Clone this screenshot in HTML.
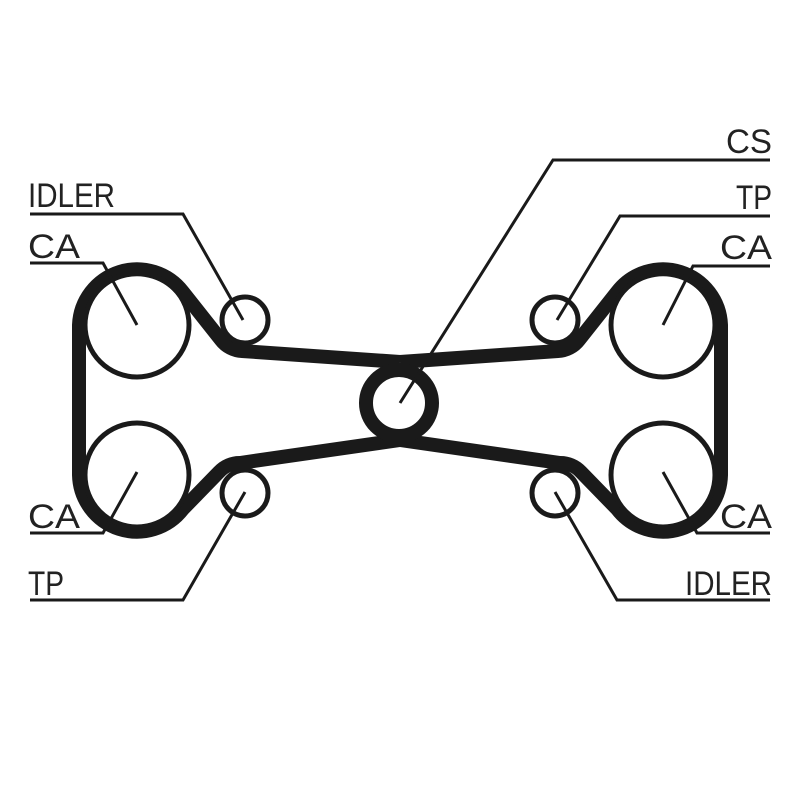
<!DOCTYPE html>
<html><head><style>
html,body{margin:0;padding:0;background:#fff;}
svg{display:block;}
text{font-family:"Liberation Sans",sans-serif;font-size:34px;fill:#222;}
</style></head><body>
<svg width="800" height="800" viewBox="0 0 800 800" xmlns="http://www.w3.org/2000/svg">
<g fill="none" stroke="#1a1a1a">
<g stroke-width="14" stroke-linejoin="round">
<path d="M400,362 L242,351 A28,28 0 0 1 221,340 L183,292 A58,58 0 0 0 79,325 L79,475 A58,58 0 0 0 183,509 L219,472 A28,28 0 0 1 240,463 L400,440"/>
<path d="M400,362 L558,351 A28,28 0 0 0 579,340 L617,292 A58,58 0 0 1 721,325 L721,475 A58,58 0 0 1 617,509 L581,472 A28,28 0 0 0 560,463 L400,440"/>
<circle cx="399" cy="403" r="33"/>
</g>
<g stroke-width="5">
<circle cx="137" cy="325" r="52"/>
<circle cx="137" cy="475" r="52"/>
<circle cx="663" cy="325" r="52"/>
<circle cx="663" cy="475" r="52"/>
<circle cx="245" cy="320" r="23"/>
<circle cx="245" cy="493" r="23"/>
<circle cx="555" cy="320" r="23"/>
<circle cx="555" cy="493" r="23"/>
</g>
<g stroke-width="3">
<polyline points="30,214 183,214 243,320"/>
<polyline points="30,263 103,263 137,325"/>
<polyline points="30,533 103,533 137,472"/>
<polyline points="30,600 183,600 245,492"/>
<polyline points="770,160 553,160 400,403"/>
<polyline points="770,216 620,216 557,320"/>
<polyline points="770,266 693,266 663,325"/>
<polyline points="770,533 697,533 663,472"/>
<polyline points="770,600 617,600 555,492"/>
</g>
</g>
<text x="28" y="207" textLength="87" lengthAdjust="spacingAndGlyphs">IDLER</text>
<text x="28" y="258" textLength="52" lengthAdjust="spacingAndGlyphs">CA</text>
<text x="28" y="528" textLength="52" lengthAdjust="spacingAndGlyphs">CA</text>
<text x="28" y="595" textLength="36" lengthAdjust="spacingAndGlyphs">TP</text>
<text x="726" y="153" textLength="46" lengthAdjust="spacingAndGlyphs">CS</text>
<text x="736" y="209" textLength="36" lengthAdjust="spacingAndGlyphs">TP</text>
<text x="720" y="259" textLength="52" lengthAdjust="spacingAndGlyphs">CA</text>
<text x="720" y="528" textLength="52" lengthAdjust="spacingAndGlyphs">CA</text>
<text x="685" y="595" textLength="87" lengthAdjust="spacingAndGlyphs">IDLER</text>
</svg>
</body></html>
